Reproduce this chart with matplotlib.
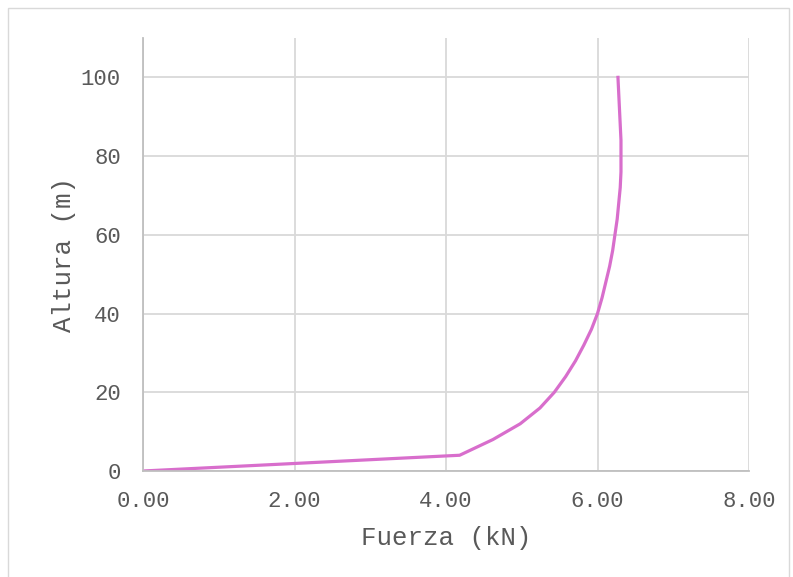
import numpy as np
import matplotlib
matplotlib.use('Agg')
import matplotlib.pyplot as plt
from matplotlib.patches import Rectangle

# altura (m) y fuerza (kN)
altura = [0, 4, 8, 12, 16, 20, 24, 28, 32, 36, 40, 44, 48, 52, 56, 60,
          64, 68, 72, 76, 80, 84, 88, 92, 96, 100]
fuerza = [0.00, 4.18, 4.62, 4.98, 5.24, 5.43, 5.58, 5.71, 5.82, 5.92, 6.00,
          6.06, 6.11, 6.16, 6.20, 6.23, 6.26, 6.28, 6.30, 6.31, 6.31, 6.31,
          6.30, 6.29, 6.28, 6.27]

x_ticks = [0, 2, 4, 6, 8]
y_ticks = [0, 20, 40, 60, 80, 100]

plt.rcParams['font.family'] = ['Liberation Mono', 'DejaVu Sans Mono']

fig = plt.figure(figsize=(7.93, 5.77), dpi=100)
fig.patches.append(Rectangle((8 / 793, -0.01), 781 / 793, 1 - 8 / 577 + 0.01,
                             transform=fig.transFigure, fill=False,
                             edgecolor='#d9d9d9', linewidth=1))

ax = fig.add_axes([143 / 793, 1 - 471 / 577, 606 / 793, 433 / 577])
ax.plot(fuerza, altura, color='#d86ecc', linewidth=2.3, solid_joinstyle='round')

ax.set_xlim(0, 8)
ax.set_ylim(0, 110)
ax.set_xticks(x_ticks)
ax.set_xticklabels([f'{v:.2f}' for v in x_ticks])
ax.set_yticks(y_ticks)
ax.set_yticklabels([str(v) for v in y_ticks])
ax.tick_params(length=0, labelsize=16, colors='#595959')
ax.tick_params(axis='y', pad=16)
ax.tick_params(axis='x', pad=14.5)

ax.grid(True, color='#d9d9d9', linewidth=1.3)
ax.set_axisbelow(True)
for s in ['top', 'right']:
    ax.spines[s].set_visible(False)
for s in ['left', 'bottom']:
    ax.spines[s].set_color('#bfbfbf')
    ax.spines[s].set_linewidth(1.3)

ax.set_xlabel('Fuerza (kN)', fontsize=18.5, color='#595959', labelpad=10)
ax.set_ylabel('Altura (m)', fontsize=18.5, color='#595959', labelpad=3.5)

fig.savefig('out.png', dpi=100)
